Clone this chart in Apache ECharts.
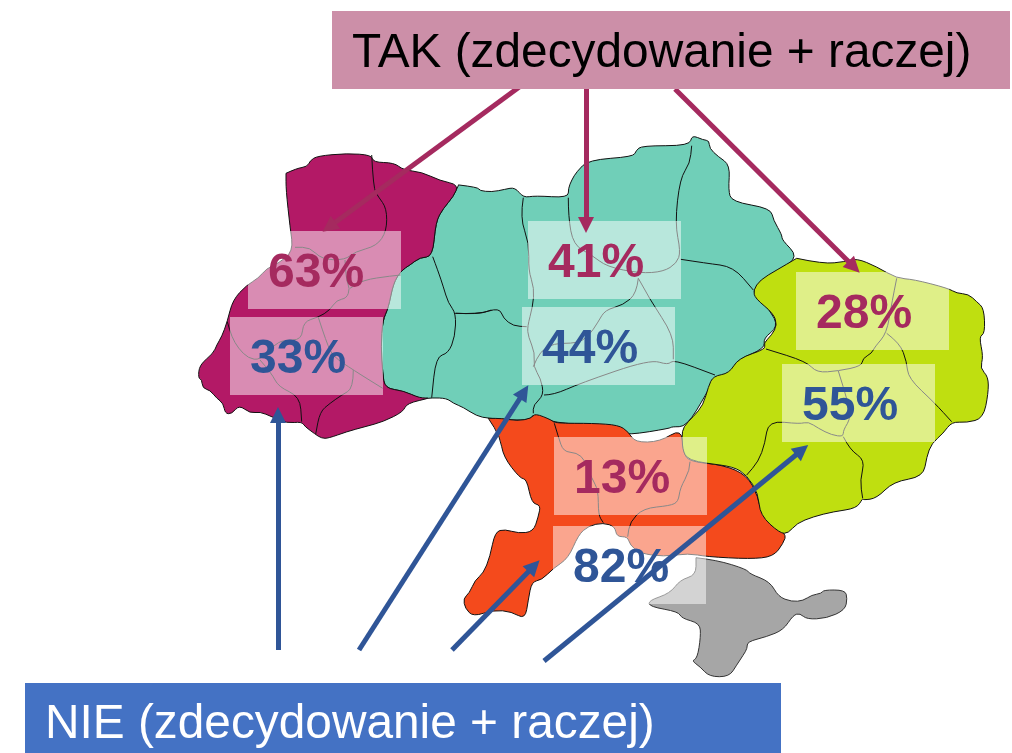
<!DOCTYPE html>
<html>
<head>
<meta charset="utf-8">
<title>Ukraina</title>
<style>
html, body { margin: 0; padding: 0; background: #fff; }
#chart { width: 1012px; height: 753px; }
</style>
<script src="https://cdn.jsdelivr.net/npm/echarts@6/dist/echarts.min.js"></script>
</head>
<body>
<div id="chart"></div>
<script>
// values
const regionNames = ['west', 'centre', 'east', 'south'];
const regionColors = ['#b31966', '#70cfb8', '#bfdf10', '#f44a1c'];
const takValues = [63, 41, 28, 13];
const nieValues = [33, 44, 55, 82];
const takTitle = 'TAK (zdecydowanie + raczej)';
const nieTitle = 'NIE (zdecydowanie + raczej)';

// label anchors (top left of each box), same order as regionNames
const takAnchors = [[248, 231], [528, 221], [796, 272], [554, 437]];
const nieAnchors = [[230, 317], [522, 307], [782, 364], [553, 526]];

// arrows, from the title box to the label
const takArrows = [[[522, 85], [329, 227]], [[586, 89], [586, 225]], [[675, 89], [854, 267]]];
const nieArrows = [[[278, 650], [278, 415]], [[359, 650], [524, 392]], [[452, 650], [534, 566]], [[544, 661], [802, 450]]];

// map outlines, traced off zoomed crops: offset x, offset y, then points at 3x
// corners are rounded with quadratic curves through the segment midpoints
function trace(ox, oy, pts) {
    const p = pts.trim().split(/\s+/).map(s => {
        const [x, y] = s.split(',').map(Number);
        return [ox + x / 3, oy + y / 3];
    });
    const f = v => v.toFixed(1);
    let d = 'M' + f(p[0][0]) + ' ' + f(p[0][1]);
    for (let i = 1; i < p.length - 1; i++) {
        const mx = (p[i][0] + p[i + 1][0]) / 2, my = (p[i][1] + p[i + 1][1]) / 2;
        d += 'Q' + f(p[i][0]) + ' ' + f(p[i][1]) + ' ' + f(mx) + ' ' + f(my);
    }
    const last = p[p.length - 1];
    return d + 'L' + f(last[0]) + ' ' + f(last[1]);
}

const westPath = trace(190, 140, `288,100 320,85 352,80 360,62 382,48 470,40 545,45 550,67 612,68 640,90 695,96 750,122 806,134
    790,170 760,205 737,245 728,350 690,352 660,375 633,392 610,430 595,505 578,540 573,620 578,700 585,745 640,752 690,775 725,773
    650,790 640,815 580,845 525,860 470,875 415,895 395,895 375,882 345,860 335,845 290,850 245,830 210,815 180,820 148,795 125,822
    105,820 100,790 80,775 60,750 38,745 35,718 25,715 28,675 70,640 80,615 95,590 112,545 128,480 170,435 205,415 230,385 262,372
    310,335 300,260 288,150 288,100`) + 'Z';

const centrePath = trace(420, 130, `118,165 175,172 178,182 215,186 255,178 285,172 310,203 345,197 445,203 445,175 455,150 470,125 505,90
    640,80 648,62 665,47 810,47 815,15 850,30 868,32 868,55 895,80 930,105 925,180 935,215 1052,235 1060,270 1086,315 1086,330
    1135,380 1080,420 1005,475 1000,490 1050,540 1075,590 1030,625 1035,655 950,690 930,735 885,740 860,790 800,890 755,890
    750,895 625,915 585,905 570,885 400,880 340,850 330,870 275,870 205,865 170,858 130,832 100,820 80,805 35,803 0,808`
    ) + trace(190, 140, `690,775 640,752 585,745 578,700 573,620 578,540 595,505 610,430 633,392 660,375 690,352 728,350 737,245 760,205 790,170 806,134`
    ).replace('M', 'L') + 'Z';

const eastPath = trace(680, 240, `350,55 430,72 495,65 530,55 590,80 650,115 700,118 805,145 830,160 865,162 890,185 912,205 915,280 897,290
    910,350 900,385 925,410 925,460 910,535 860,548 815,545 790,580 755,610 740,650 730,710 640,725 590,775 550,780 548,775 530,805
    460,815 400,830 350,850 325,880 300,880 240,825 235,760 200,705 160,680 80,670 30,660 10,640 5,590 10,560 40,530 70,495 85,440
    100,408 148,400 175,355 258,327 250,310 275,285 292,255 280,220 225,175 220,150 240,120 290,90 350,55`) + 'Z';

const southPath = trace(450, 410, `115,25 160,25 200,33 245,25 255,10 305,30 315,40 430,40 505,45 535,65 555,97 630,95 695,55 700,130 720,155
    820,165 890,195 925,260 935,320 1010,370 1000,400 970,440 900,447 770,440 715,430 640,440 570,430 540,405 533,380 500,380 495,350
    460,338 415,348 385,375 355,445 310,475 275,510 245,515 235,570 225,628 185,605 130,600 70,620 45,595 40,565 58,550 75,510 100,490
    120,440 135,365 165,358 205,370 250,365 265,320 272,285 245,280 230,207 210,205 160,140 150,80 115,25`) + 'Z';

const crimeaPath = trace(450, 410, `738,443 800,450 890,478 900,492 960,515 985,560 1025,575 1060,572 1085,555 1115,550 1120,540 1185,540 1192,565
    1185,600 1130,625 1070,628 1050,610 1030,615 1000,660 950,680 892,695 892,715 880,735 860,765 838,800 778,800 750,770 725,752 742,745
    752,680 750,640 695,625 685,605 600,590 595,572 660,550 690,510 738,495 738,443`) + 'Z';

// oblast borders inside the macro regions
const borders = [
    [190, 140, '545,45 550,145 565,170 590,205 590,273 560,318 495,335 465,360 395,358 360,322 315,322'],
    [190, 140, '465,360 468,420 480,445 470,475 440,480 420,510 385,532 340,545 335,600 280,600 250,617 210,660 175,655 145,625 125,590 112,545'],
    [190, 140, '632,405 600,408 520,420 480,445'],
    [190, 140, '210,660 245,700 265,740 330,770 335,845'],
    [190, 140, '385,532 410,610 430,650 490,690 578,745'],
    [190, 140, '490,690 490,745 455,765 420,790 390,815 377,882'],
    [190, 140, '728,350 745,395 760,440 775,490 798,520 795,590 775,640 738,650 725,773'],
    [420, 130, '105,550 175,553 238,533 250,565 280,588 320,590'],
    [190, 140, '798,520 865,523 904,510'],
    [420, 130, '310,203 300,265 328,340 325,420 343,475 338,530 322,590 325,620 345,670 340,710 362,745 372,795 340,825 340,850'],
    [420, 130, '372,795 400,795 480,760 690,688 745,705 760,688 885,735'],
    [420, 130, '445,203 445,260 460,345 515,375 560,410 660,430 730,425 770,400 782,365 765,280 780,145 810,100 815,47'],
    [420, 130, '782,388 860,400 940,410 1000,480'],
    [420, 130, '655,445 650,490 610,525 555,540 535,575 505,620 470,640 400,640 360,665 340,710'],
    [420, 130, '655,445 690,510 760,615 760,688'],
    [680, 240, '650,115 635,190 620,280 585,320 575,340 548,355 545,378 475,393 410,398 380,365 258,327'],
    [680, 240, '620,280 660,310 680,365 685,415 765,490 815,545'],
    [680, 240, '475,393 490,440 515,530 490,570 490,590 455,585 415,565 385,545 360,552 265,542 255,610 235,665 200,705'],
    [680, 240, '490,590 510,630 555,660 540,720 548,775'],
    [450, 410, '313,40 325,80 340,125 380,128 405,150 425,205 445,240 445,315 460,338'],
    [450, 410, '720,155 720,180 690,235 685,275 660,287 580,295 540,335 533,380']
];

const svgMap = `<svg xmlns="http://www.w3.org/2000/svg" width="1012" height="753" viewBox="0 0 1012 753">
<path name="centre" d="${centrePath}"/>
<path name="west" d="${westPath}"/>
<path name="south" d="${southPath}"/>
<path name="east" d="${eastPath}"/>
<path name="crimea" d="${crimeaPath}"/>
${borders.map(b => `<path fill="none" stroke="#111" stroke-width="1" d="${trace(b[0], b[1], b[2])}"/>`).join('\n')}
</svg>`;

echarts.registerMap('ukraine', {svg: svgMap});

const chart = echarts.init(document.getElementById('chart'), null, {renderer: 'canvas'});

function labelSeries(values, anchors, color) {
    return {
        type: 'scatter',
        coordinateSystem: 'geo',
        symbolSize: 0,
        silent: true,
        z: 3,
        itemStyle: {opacity: 1},
        data: values.map((v, i) => [anchors[i][0], anchors[i][1], v]),
        label: {
            show: true,
            position: 'right',
            distance: 0,
            verticalAlign: 'top', // padding only moves the text with top alignment
            formatter: p => p.value[2] + '%',
            fontFamily: '"Liberation Sans"',
            fontWeight: 'bold',
            fontSize: 48,
            color: color,
            backgroundColor: 'rgba(255,255,255,0.5)',
            width: 133,
            height: 65,
            lineHeight: 60,
            padding: [13, 0, 0, 20]
        }
    };
}

function arrowSeries(arrows, color) {
    return {
        type: 'lines',
        coordinateSystem: 'geo',
        silent: true,
        z: 4,
        symbol: ['none', 'triangle'],
        symbolSize: 16,
        lineStyle: {color: color, width: 5, opacity: 1, curveness: 0},
        data: arrows.map(a => ({coords: a}))
    };
}

chart.setOption({
    animation: false,
    geo: {
        map: 'ukraine',
        left: 0,
        top: 0,
        width: 1012,
        height: 753,
        roam: false,
        silent: true,
        label: {show: false},
        itemStyle: {borderColor: '#111', borderWidth: 1},
        regions: regionNames.map((name, i) => ({
            name: name,
            itemStyle: {areaColor: regionColors[i], borderColor: '#111', borderWidth: 1}
        })).concat([{name: 'crimea', itemStyle: {areaColor: '#a6a6a6', borderColor: '#333', borderWidth: 1}}])
    },
    series: [
        labelSeries(takValues, takAnchors, '#a52a5f'),
        labelSeries(nieValues, nieAnchors, '#2f5597'),
        arrowSeries(takArrows, '#a52a5f'),
        arrowSeries(nieArrows, '#2f5597')
    ],
    graphic: [
        {type: 'rect', z: 5, shape: {x: 332, y: 11, width: 678, height: 78}, style: {fill: '#cc8fa8'}},
        {type: 'text', z: 6, style: {text: takTitle, x: 352, y: 54, fill: '#000', font: '47.8px "Liberation Sans"', verticalAlign: 'middle'}},
        {type: 'rect', z: 5, shape: {x: 25, y: 683, width: 756, height: 70}, style: {fill: '#4472c4'}},
        {type: 'text', z: 6, style: {text: nieTitle, x: 45, y: 725, fill: '#fff', font: '47.8px "Liberation Sans"', verticalAlign: 'middle'}}
    ]
});
</script>
</body>
</html>
